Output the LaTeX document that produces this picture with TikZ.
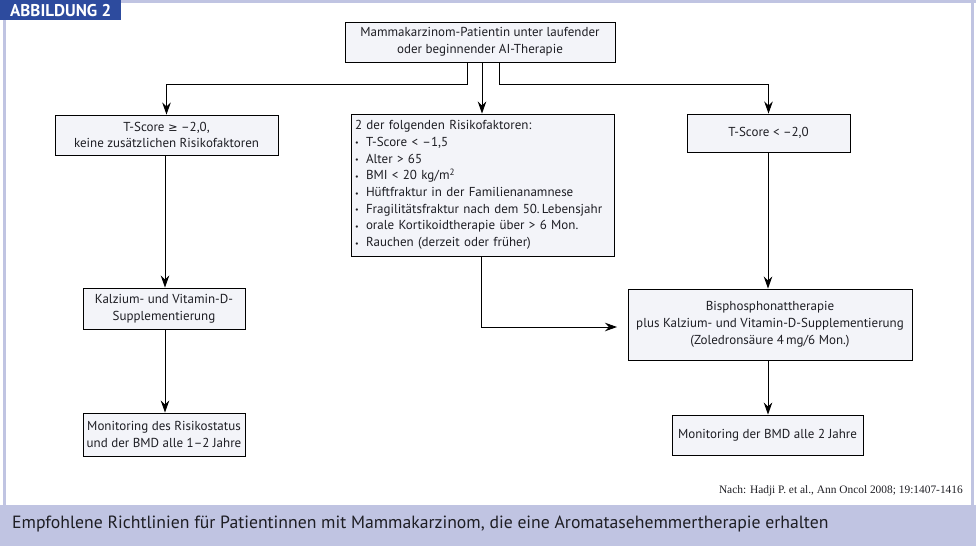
\documentclass[tikz,border=0pt]{standalone}
\usepackage{fontspec}
\setmainfont{PT Sans}
\newfontfamily\citefont{Liberation Serif}
\newfontfamily\symfont{DejaVu Sans}
\usetikzlibrary{arrows.meta}
\definecolor{hdrblue}{HTML}{2D4B9E}
\definecolor{band}{HTML}{C0C4E2}
\definecolor{boxfill}{HTML}{F3F4F9}
\definecolor{txt}{HTML}{1E1E24}
\tikzset{
  fbox/.style={draw=black, line width=0.9pt, fill=boxfill, text=txt, align=center,
    font=\fontsize{13}{16.7}\selectfont, inner sep=0pt},
  conn/.style={draw=black, line width=0.9pt},
  arr/.style={conn, -{Stealth[length=12pt,width=8.5pt]}}
}
\newcommand{\bul}{\makebox[11pt][l]{\raisebox{0.5pt}{\footnotesize\textbullet}}}
\begin{document}
\begin{tikzpicture}[x=1pt,y=-1pt]
\useasboundingbox (0,0) rectangle (976,546);
% frame
\fill[band] (0,0) rectangle (976,2.5);
\fill[band] (2.5,0) rectangle (5.5,506);
\fill[band] (971,0) rectangle (974,506);
\fill[band] (0,505) rectangle (976,546);
\node[fill=hdrblue, text=white, font=\fontsize{17}{17}\selectfont\bfseries, anchor=north west,
  minimum width=121pt, minimum height=20pt, inner sep=0pt] (hdr) at (0,0) {ABBILDUNG 2};
% boxes
\node[fbox, minimum width=270pt, minimum height=40pt] (top) at (480,42)
  {Mammakarzinom-Patientin unter laufender\\oder beginnender AI-Therapie};
\node[fbox, minimum width=223pt, minimum height=40pt] (l1) at (166.5,135)
  {T-Score {\symfont\fontsize{11.5}{12}\selectfont ≥} \textendash2,0,\\keine zusätzlichen Risikofaktoren};
\node[fbox, minimum width=263pt, minimum height=142pt, align=left, text width=255pt, inner xsep=4pt] (mid) at (482.5,185)
  {2 der folgenden Risikofaktoren:\\
   \bul T-Score < \textendash1,5\\
   \bul Alter > 65\\
   \bul BMI < 20 kg/m\textsuperscript{2}\\
   \bul Hüftfraktur in der Familienanamnese\\
   \bul Fragilitätsfraktur nach dem 50.\,Lebensjahr\\
   \bul orale Kortikoidtherapie über > 6 Mon.\\
   \bul Rauchen (derzeit oder früher)};
\node[fbox, minimum width=163pt, minimum height=38pt] (r1) at (768.5,133) {T-Score < \textendash2,0};
\node[fbox, minimum width=162pt, minimum height=41pt] (l2) at (164,308.5)
  {Kalzium- und Vitamin-D-\\Supplementierung};
\node[fbox, minimum width=284pt, minimum height=71pt] (r2) at (770,324.5)
  {Bisphosphonattherapie\\plus Kalzium- und Vitamin-D-Supplementierung\\(Zoledronsäure 4\,mg/6 Mon.)};
\node[fbox, minimum width=162pt, minimum height=43pt] (l3) at (164,434.5)
  {Monitoring des Risikostatus\\und der BMD alle 1\textendash2 Jahre};
\node[fbox, minimum width=191pt, minimum height=40pt] (r3) at (767.5,435)
  {Monitoring der BMD alle 2 Jahre};
% connectors
\coordinate (jl) at (467,84);
\coordinate (jr) at (499,84);
\draw[arr] (top.south -| jl) |- (jl) -| (l1.north);
\draw[arr] (top.south -| jr) |- (jr) -| (r1.north);
\draw[arr] (top.south -| 482,0) -- (mid.north -| 482,0);
\draw[arr] (l1.south -| 165,0) -- (l2.north -| 165,0);
\draw[arr] (l2.south -| 165,0) -- (l3.north -| 165,0);
\draw[arr] (r1.south -| 768,0) -- (r2.north -| 768,0);
\draw[arr] (r2.south -| 768,0) -- (r3.north -| 768,0);
\coordinate (mb) at (481,327);
\coordinate (me) at (617,327);
\draw[arr] (mid.south -| mb) |- (me);
% citation and caption
\node[anchor=east, font=\citefont\fontsize{11.4}{12}\selectfont, text=txt, inner sep=0pt] (cite) at (963,491)
  {Nach: Hadji P. et al., Ann Oncol 2008; 19:1407-1416};
\node[anchor=west, font=\fontsize{17.7}{17.7}\selectfont, text=txt, inner sep=0pt] (cap) at (12,524)
  {Empfohlene Richtlinien für Patientinnen mit Mammakarzinom, die eine Aromatasehemmertherapie erhalten};
\end{tikzpicture}
\end{document}
